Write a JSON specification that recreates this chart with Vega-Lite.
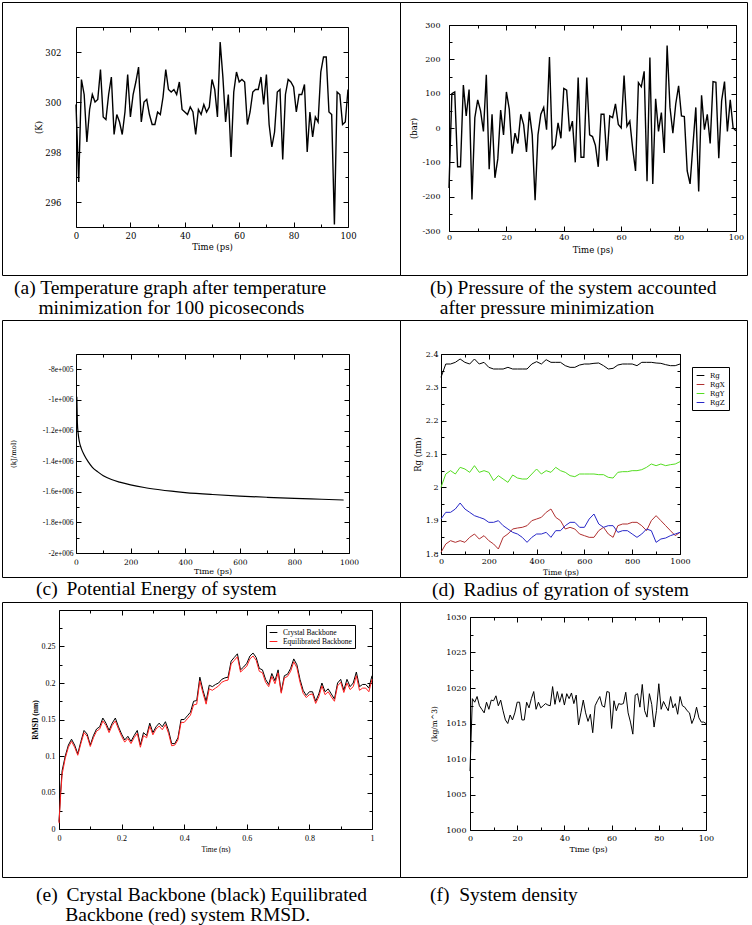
{
"$schema": "https://vega.github.io/schema/vega-lite/v6.json",
"background": "white",
"padding": {"left": 1, "top": 1, "right": 0, "bottom": 2},
"columns": 2,
"spacing": 0,
"bounds": "flush",
"align": "each",
"resolve": {"scale": {"color": "independent"}, "legend": {"color": "independent"}},
"config": {
  "view": {"stroke": "black", "strokeWidth": 1},
  "axis": {"grid": false, "domainColor": "#000", "tickColor": "#000", "labelColor": "#000", "titleColor": "#000", "labelFont": "DejaVu Serif", "titleFont": "DejaVu Serif", "labelFontSize": 8, "titleFontSize": 8.5, "titleFontWeight": "normal", "labelFlush": false, "labelOverlap": false, "labelBound": false, "titlePadding": 1, "domainWidth": 1, "tickWidth": 1, "zindex": 1},
  "title": {"font": "Liberation Serif", "fontSize": 19.5, "fontWeight": "normal", "color": "black", "anchor": "start", "frame": "group", "orient": "bottom", "baseline": "alphabetic", "lineHeight": 20},
  "legend": {"strokeColor": "black", "fillColor": "white", "padding": 4, "cornerRadius": 0, "symbolType": "stroke", "symbolSize": 60, "symbolStrokeWidth": 1, "rowPadding": 1, "labelOffset": 5, "labelColor": "black"}
},
"datasets": {
"temp": [{"t":0,"v":299.9},{"t":1,"v":296.8},{"t":2,"v":300.9},{"t":3,"v":300.3},{"t":4,"v":298.4},{"t":5,"v":299.7},{"t":6,"v":300.3},{"t":7,"v":300.0},{"t":8,"v":300.1},{"t":9,"v":301.3},{"t":10,"v":299.4},{"t":11,"v":299.3},{"t":12,"v":300.3},{"t":13,"v":301.0},{"t":14,"v":298.7},{"t":15,"v":299.5},{"t":16,"v":299.2},{"t":17,"v":298.7},{"t":18,"v":299.6},{"t":19,"v":301.1},{"t":20,"v":299.4},{"t":21,"v":300.3},{"t":22,"v":300.8},{"t":23,"v":301.4},{"t":24,"v":299.2},{"t":25,"v":300.0},{"t":26,"v":300.1},{"t":27,"v":299.5},{"t":28,"v":299.1},{"t":29,"v":299.1},{"t":30,"v":299.6},{"t":31,"v":299.5},{"t":32,"v":300.2},{"t":33,"v":301.3},{"t":34,"v":300.5},{"t":35,"v":300.4},{"t":36,"v":300.5},{"t":37,"v":300.3},{"t":38,"v":300.8},{"t":39,"v":299.7},{"t":40,"v":299.6},{"t":41,"v":299.5},{"t":42,"v":299.8},{"t":43,"v":299.6},{"t":44,"v":298.7},{"t":45,"v":299.7},{"t":46,"v":299.5},{"t":47,"v":299.9},{"t":48,"v":299.6},{"t":49,"v":299.8},{"t":50,"v":300.9},{"t":51,"v":300.5},{"t":52,"v":299.4},{"t":53,"v":302.4},{"t":54,"v":301.0},{"t":55,"v":299.2},{"t":56,"v":300.3},{"t":57,"v":297.8},{"t":58,"v":300.4},{"t":59,"v":301.2},{"t":60,"v":300.8},{"t":61,"v":300.9},{"t":62,"v":300.8},{"t":63,"v":299.1},{"t":64,"v":299.6},{"t":65,"v":300.4},{"t":66,"v":300.5},{"t":67,"v":300.5},{"t":68,"v":301.0},{"t":69,"v":299.9},{"t":70,"v":301.1},{"t":71,"v":299.1},{"t":72,"v":298.2},{"t":73,"v":298.8},{"t":74,"v":300.4},{"t":75,"v":300.5},{"t":76,"v":297.7},{"t":77,"v":300.3},{"t":78,"v":300.9},{"t":79,"v":300.8},{"t":80,"v":300.6},{"t":81,"v":299.6},{"t":82,"v":300.3},{"t":83,"v":300.3},{"t":84,"v":300.7},{"t":85,"v":298.0},{"t":86,"v":299.6},{"t":87,"v":298.6},{"t":88,"v":299.4},{"t":89,"v":299.2},{"t":90,"v":301.2},{"t":91,"v":301.8},{"t":92,"v":301.8},{"t":93,"v":299.6},{"t":94,"v":299.5},{"t":95,"v":295.1},{"t":96,"v":300.4},{"t":97,"v":300.3},{"t":98,"v":299.1},{"t":99,"v":299.2},{"t":100,"v":300.5}],
"pres": [{"t":0,"v":-175},{"t":1,"v":100},{"t":2,"v":105},{"t":3,"v":-113},{"t":4,"v":-113},{"t":5,"v":125},{"t":6,"v":35},{"t":7,"v":112},{"t":8,"v":-208},{"t":9,"v":30},{"t":10,"v":82},{"t":11,"v":50},{"t":12,"v":-10},{"t":13,"v":155},{"t":14,"v":-120},{"t":15,"v":40},{"t":16,"v":-145},{"t":17,"v":-90},{"t":18,"v":52},{"t":19,"v":-20},{"t":20,"v":105},{"t":21,"v":55},{"t":22,"v":-75},{"t":23,"v":-15},{"t":24,"v":-45},{"t":25,"v":40},{"t":26,"v":10},{"t":27,"v":-70},{"t":28,"v":47},{"t":29,"v":-20},{"t":30,"v":-210},{"t":31,"v":-20},{"t":32,"v":40},{"t":33,"v":60},{"t":34,"v":-5},{"t":35,"v":207},{"t":36,"v":-60},{"t":37,"v":-50},{"t":38,"v":15},{"t":39,"v":-30},{"t":40,"v":115},{"t":41,"v":110},{"t":42,"v":-10},{"t":43,"v":20},{"t":44,"v":-100},{"t":45,"v":147},{"t":46,"v":-85},{"t":47,"v":-85},{"t":48,"v":147},{"t":49,"v":-20},{"t":50,"v":-25},{"t":51,"v":-50},{"t":52,"v":-113},{"t":53,"v":40},{"t":54,"v":40},{"t":55,"v":-95},{"t":56,"v":35},{"t":57,"v":30},{"t":58,"v":70},{"t":59,"v":10},{"t":60,"v":0},{"t":61,"v":153},{"t":62,"v":5},{"t":63,"v":20},{"t":64,"v":-60},{"t":65,"v":-125},{"t":66,"v":132},{"t":67,"v":120},{"t":68,"v":165},{"t":69,"v":-155},{"t":70,"v":205},{"t":71,"v":-163},{"t":72,"v":85},{"t":73,"v":-10},{"t":74,"v":45},{"t":75,"v":-73},{"t":76,"v":240},{"t":77,"v":60},{"t":78,"v":-15},{"t":79,"v":70},{"t":80,"v":123},{"t":81,"v":35},{"t":82,"v":33},{"t":83,"v":-125},{"t":84,"v":-163},{"t":85,"v":-50},{"t":86,"v":60},{"t":87,"v":-185},{"t":88,"v":95},{"t":89,"v":-5},{"t":90,"v":40},{"t":91,"v":-45},{"t":92,"v":135},{"t":93,"v":133},{"t":94,"v":-88},{"t":95,"v":80},{"t":96,"v":135},{"t":97,"v":-10},{"t":98,"v":82},{"t":99,"v":0},{"t":100,"v":-8}],
"pe": [{"t":3,"v":-980000},{"t":5,"v":-1150000},{"t":8,"v":-1220000},{"t":12,"v":-1270000},{"t":20,"v":-1320000},{"t":30,"v":-1360000},{"t":45,"v":-1405000},{"t":60,"v":-1440000},{"t":80,"v":-1470000},{"t":100,"v":-1495000},{"t":130,"v":-1520000},{"t":160,"v":-1537000},{"t":200,"v":-1555000},{"t":250,"v":-1572000},{"t":300,"v":-1585000},{"t":350,"v":-1596000},{"t":400,"v":-1605000},{"t":500,"v":-1618000},{"t":600,"v":-1628000},{"t":700,"v":-1636000},{"t":800,"v":-1643000},{"t":900,"v":-1649000},{"t":980,"v":-1654000}],
"rg": [{"t":0,"Rg":2.33,"RgX":1.805,"RgY":2.0,"RgZ":1.905},{"t":20,"Rg":2.37,"RgX":1.83,"RgY":2.04,"RgZ":1.925},{"t":40,"Rg":2.37,"RgX":1.84,"RgY":2.05,"RgZ":1.925},{"t":60,"Rg":2.375,"RgX":1.835,"RgY":2.04,"RgZ":1.935},{"t":80,"Rg":2.385,"RgX":1.84,"RgY":2.06,"RgZ":1.953},{"t":100,"Rg":2.375,"RgX":1.835,"RgY":2.055,"RgZ":1.935},{"t":120,"Rg":2.37,"RgX":1.85,"RgY":2.045,"RgZ":1.925},{"t":140,"Rg":2.385,"RgX":1.86,"RgY":2.065,"RgZ":1.915},{"t":160,"Rg":2.37,"RgX":1.845,"RgY":2.045,"RgZ":1.91},{"t":180,"Rg":2.375,"RgX":1.855,"RgY":2.05,"RgZ":1.905},{"t":200,"Rg":2.36,"RgX":1.84,"RgY":2.045,"RgZ":1.895},{"t":220,"Rg":2.355,"RgX":1.83,"RgY":2.02,"RgZ":1.895},{"t":240,"Rg":2.355,"RgX":1.815,"RgY":2.035,"RgZ":1.9},{"t":260,"Rg":2.355,"RgX":1.85,"RgY":2.025,"RgZ":1.885},{"t":280,"Rg":2.36,"RgX":1.86,"RgY":2.015,"RgZ":1.875},{"t":300,"Rg":2.355,"RgX":1.875,"RgY":2.037,"RgZ":1.865},{"t":320,"Rg":2.355,"RgX":1.878,"RgY":2.028,"RgZ":1.86},{"t":340,"Rg":2.355,"RgX":1.88,"RgY":2.025,"RgZ":1.85},{"t":360,"Rg":2.355,"RgX":1.885,"RgY":2.025,"RgZ":1.835},{"t":380,"Rg":2.37,"RgX":1.9,"RgY":2.04,"RgZ":1.85},{"t":400,"Rg":2.377,"RgX":1.905,"RgY":2.055,"RgZ":1.86},{"t":420,"Rg":2.37,"RgX":1.91,"RgY":2.04,"RgZ":1.86},{"t":440,"Rg":2.383,"RgX":1.925,"RgY":2.05,"RgZ":1.865},{"t":460,"Rg":2.375,"RgX":1.935,"RgY":2.045,"RgZ":1.85},{"t":480,"Rg":2.375,"RgX":1.91,"RgY":2.06,"RgZ":1.87},{"t":500,"Rg":2.375,"RgX":1.9,"RgY":2.05,"RgZ":1.87},{"t":520,"Rg":2.365,"RgX":1.875,"RgY":2.045,"RgZ":1.885},{"t":540,"Rg":2.36,"RgX":1.88,"RgY":2.035,"RgZ":1.895},{"t":560,"Rg":2.36,"RgX":1.875,"RgY":2.032,"RgZ":1.895},{"t":580,"Rg":2.367,"RgX":1.86,"RgY":2.04,"RgZ":1.88},{"t":600,"Rg":2.37,"RgX":1.855,"RgY":2.04,"RgZ":1.88},{"t":620,"Rg":2.37,"RgX":1.85,"RgY":2.04,"RgZ":1.905},{"t":640,"Rg":2.372,"RgX":1.85,"RgY":2.04,"RgZ":1.92},{"t":660,"Rg":2.373,"RgX":1.87,"RgY":2.038,"RgZ":1.89},{"t":680,"Rg":2.365,"RgX":1.88,"RgY":2.038,"RgZ":1.88},{"t":700,"Rg":2.355,"RgX":1.86,"RgY":2.03,"RgZ":1.885},{"t":720,"Rg":2.357,"RgX":1.85,"RgY":2.028,"RgZ":1.885},{"t":740,"Rg":2.367,"RgX":1.885,"RgY":2.045,"RgZ":1.865},{"t":760,"Rg":2.37,"RgX":1.89,"RgY":2.047,"RgZ":1.87},{"t":780,"Rg":2.37,"RgX":1.89,"RgY":2.047,"RgZ":1.87},{"t":800,"Rg":2.37,"RgX":1.895,"RgY":2.05,"RgZ":1.86},{"t":820,"Rg":2.365,"RgX":1.895,"RgY":2.05,"RgZ":1.85},{"t":840,"Rg":2.375,"RgX":1.885,"RgY":2.053,"RgZ":1.86},{"t":860,"Rg":2.375,"RgX":1.87,"RgY":2.06,"RgZ":1.875},{"t":880,"Rg":2.375,"RgX":1.9,"RgY":2.07,"RgZ":1.87},{"t":900,"Rg":2.373,"RgX":1.915,"RgY":2.065,"RgZ":1.835},{"t":920,"Rg":2.372,"RgX":1.9,"RgY":2.07,"RgZ":1.845},{"t":940,"Rg":2.368,"RgX":1.885,"RgY":2.065,"RgZ":1.848},{"t":960,"Rg":2.365,"RgX":1.87,"RgY":2.068,"RgZ":1.855},{"t":980,"Rg":2.365,"RgX":1.855,"RgY":2.07,"RgZ":1.86},{"t":1000,"Rg":2.37,"RgX":1.865,"RgY":2.077,"RgZ":1.865}],
"rmsd": [{"t":0,"Crystal Backbone":0.01,"Equilibrated Backbone":0.008},{"t":0.005,"Crystal Backbone":0.05,"Equilibrated Backbone":0.045},{"t":0.01,"Crystal Backbone":0.08,"Equilibrated Backbone":0.075},{"t":0.02,"Crystal Backbone":0.1,"Equilibrated Backbone":0.097},{"t":0.03,"Crystal Backbone":0.115,"Equilibrated Backbone":0.112},{"t":0.04,"Crystal Backbone":0.123,"Equilibrated Backbone":0.12},{"t":0.05,"Crystal Backbone":0.115,"Equilibrated Backbone":0.112},{"t":0.06,"Crystal Backbone":0.103,"Equilibrated Backbone":0.101},{"t":0.07,"Crystal Backbone":0.12,"Equilibrated Backbone":0.117},{"t":0.08,"Crystal Backbone":0.135,"Equilibrated Backbone":0.132},{"t":0.09,"Crystal Backbone":0.13,"Equilibrated Backbone":0.127},{"t":0.1,"Crystal Backbone":0.115,"Equilibrated Backbone":0.113},{"t":0.11,"Crystal Backbone":0.128,"Equilibrated Backbone":0.125},{"t":0.12,"Crystal Backbone":0.137,"Equilibrated Backbone":0.134},{"t":0.13,"Crystal Backbone":0.14,"Equilibrated Backbone":0.137},{"t":0.14,"Crystal Backbone":0.152,"Equilibrated Backbone":0.148},{"t":0.15,"Crystal Backbone":0.145,"Equilibrated Backbone":0.142},{"t":0.16,"Crystal Backbone":0.135,"Equilibrated Backbone":0.132},{"t":0.17,"Crystal Backbone":0.145,"Equilibrated Backbone":0.142},{"t":0.18,"Crystal Backbone":0.152,"Equilibrated Backbone":0.148},{"t":0.19,"Crystal Backbone":0.14,"Equilibrated Backbone":0.137},{"t":0.2,"Crystal Backbone":0.13,"Equilibrated Backbone":0.127},{"t":0.21,"Crystal Backbone":0.122,"Equilibrated Backbone":0.119},{"t":0.22,"Crystal Backbone":0.127,"Equilibrated Backbone":0.124},{"t":0.23,"Crystal Backbone":0.12,"Equilibrated Backbone":0.117},{"t":0.24,"Crystal Backbone":0.128,"Equilibrated Backbone":0.125},{"t":0.25,"Crystal Backbone":0.135,"Equilibrated Backbone":0.131},{"t":0.26,"Crystal Backbone":0.115,"Equilibrated Backbone":0.112},{"t":0.27,"Crystal Backbone":0.132,"Equilibrated Backbone":0.128},{"t":0.28,"Crystal Backbone":0.128,"Equilibrated Backbone":0.125},{"t":0.29,"Crystal Backbone":0.145,"Equilibrated Backbone":0.141},{"t":0.3,"Crystal Backbone":0.132,"Equilibrated Backbone":0.129},{"t":0.31,"Crystal Backbone":0.14,"Equilibrated Backbone":0.137},{"t":0.32,"Crystal Backbone":0.145,"Equilibrated Backbone":0.141},{"t":0.33,"Crystal Backbone":0.14,"Equilibrated Backbone":0.136},{"t":0.34,"Crystal Backbone":0.147,"Equilibrated Backbone":0.143},{"t":0.35,"Crystal Backbone":0.135,"Equilibrated Backbone":0.131},{"t":0.36,"Crystal Backbone":0.117,"Equilibrated Backbone":0.114},{"t":0.37,"Crystal Backbone":0.117,"Equilibrated Backbone":0.115},{"t":0.38,"Crystal Backbone":0.125,"Equilibrated Backbone":0.122},{"t":0.39,"Crystal Backbone":0.15,"Equilibrated Backbone":0.146},{"t":0.4,"Crystal Backbone":0.15,"Equilibrated Backbone":0.146},{"t":0.41,"Crystal Backbone":0.155,"Equilibrated Backbone":0.151},{"t":0.42,"Crystal Backbone":0.16,"Equilibrated Backbone":0.156},{"t":0.43,"Crystal Backbone":0.175,"Equilibrated Backbone":0.17},{"t":0.44,"Crystal Backbone":0.176,"Equilibrated Backbone":0.171},{"t":0.45,"Crystal Backbone":0.208,"Equilibrated Backbone":0.203},{"t":0.46,"Crystal Backbone":0.19,"Equilibrated Backbone":0.186},{"t":0.47,"Crystal Backbone":0.175,"Equilibrated Backbone":0.171},{"t":0.48,"Crystal Backbone":0.197,"Equilibrated Backbone":0.192},{"t":0.49,"Crystal Backbone":0.195,"Equilibrated Backbone":0.19},{"t":0.5,"Crystal Backbone":0.198,"Equilibrated Backbone":0.193},{"t":0.51,"Crystal Backbone":0.2,"Equilibrated Backbone":0.196},{"t":0.52,"Crystal Backbone":0.205,"Equilibrated Backbone":0.201},{"t":0.53,"Crystal Backbone":0.207,"Equilibrated Backbone":0.203},{"t":0.54,"Crystal Backbone":0.208,"Equilibrated Backbone":0.204},{"t":0.55,"Crystal Backbone":0.23,"Equilibrated Backbone":0.226},{"t":0.56,"Crystal Backbone":0.235,"Equilibrated Backbone":0.231},{"t":0.57,"Crystal Backbone":0.24,"Equilibrated Backbone":0.236},{"t":0.58,"Crystal Backbone":0.218,"Equilibrated Backbone":0.215},{"t":0.59,"Crystal Backbone":0.222,"Equilibrated Backbone":0.219},{"t":0.6,"Crystal Backbone":0.227,"Equilibrated Backbone":0.223},{"t":0.61,"Crystal Backbone":0.237,"Equilibrated Backbone":0.233},{"t":0.62,"Crystal Backbone":0.241,"Equilibrated Backbone":0.237},{"t":0.63,"Crystal Backbone":0.235,"Equilibrated Backbone":0.231},{"t":0.64,"Crystal Backbone":0.22,"Equilibrated Backbone":0.216},{"t":0.65,"Crystal Backbone":0.218,"Equilibrated Backbone":0.214},{"t":0.66,"Crystal Backbone":0.205,"Equilibrated Backbone":0.201},{"t":0.67,"Crystal Backbone":0.198,"Equilibrated Backbone":0.195},{"t":0.68,"Crystal Backbone":0.213,"Equilibrated Backbone":0.209},{"t":0.69,"Crystal Backbone":0.203,"Equilibrated Backbone":0.199},{"t":0.7,"Crystal Backbone":0.218,"Equilibrated Backbone":0.214},{"t":0.71,"Crystal Backbone":0.188,"Equilibrated Backbone":0.186},{"t":0.72,"Crystal Backbone":0.21,"Equilibrated Backbone":0.207},{"t":0.73,"Crystal Backbone":0.212,"Equilibrated Backbone":0.209},{"t":0.74,"Crystal Backbone":0.22,"Equilibrated Backbone":0.216},{"t":0.75,"Crystal Backbone":0.233,"Equilibrated Backbone":0.229},{"t":0.76,"Crystal Backbone":0.225,"Equilibrated Backbone":0.221},{"t":0.77,"Crystal Backbone":0.205,"Equilibrated Backbone":0.201},{"t":0.78,"Crystal Backbone":0.19,"Equilibrated Backbone":0.186},{"t":0.79,"Crystal Backbone":0.183,"Equilibrated Backbone":0.18},{"t":0.8,"Crystal Backbone":0.188,"Equilibrated Backbone":0.184},{"t":0.81,"Crystal Backbone":0.188,"Equilibrated Backbone":0.185},{"t":0.82,"Crystal Backbone":0.175,"Equilibrated Backbone":0.172},{"t":0.83,"Crystal Backbone":0.185,"Equilibrated Backbone":0.181},{"t":0.84,"Crystal Backbone":0.2,"Equilibrated Backbone":0.196},{"t":0.85,"Crystal Backbone":0.188,"Equilibrated Backbone":0.184},{"t":0.86,"Crystal Backbone":0.192,"Equilibrated Backbone":0.188},{"t":0.87,"Crystal Backbone":0.185,"Equilibrated Backbone":0.181},{"t":0.88,"Crystal Backbone":0.178,"Equilibrated Backbone":0.175},{"t":0.89,"Crystal Backbone":0.2,"Equilibrated Backbone":0.196},{"t":0.9,"Crystal Backbone":0.205,"Equilibrated Backbone":0.201},{"t":0.91,"Crystal Backbone":0.19,"Equilibrated Backbone":0.187},{"t":0.92,"Crystal Backbone":0.205,"Equilibrated Backbone":0.2},{"t":0.93,"Crystal Backbone":0.195,"Equilibrated Backbone":0.191},{"t":0.94,"Crystal Backbone":0.2,"Equilibrated Backbone":0.195},{"t":0.95,"Crystal Backbone":0.215,"Equilibrated Backbone":0.21},{"t":0.96,"Crystal Backbone":0.195,"Equilibrated Backbone":0.19},{"t":0.97,"Crystal Backbone":0.198,"Equilibrated Backbone":0.193},{"t":0.98,"Crystal Backbone":0.198,"Equilibrated Backbone":0.193},{"t":0.99,"Crystal Backbone":0.193,"Equilibrated Backbone":0.188},{"t":1.0,"Crystal Backbone":0.21,"Equilibrated Backbone":0.205}],
"dens": [{"t":0,"v":1008.3},{"t":1,"v":1018.5},{"t":2,"v":1018},{"t":3,"v":1018.8},{"t":4,"v":1017.5},{"t":5,"v":1017},{"t":6,"v":1016.5},{"t":7,"v":1018},{"t":8,"v":1017},{"t":9,"v":1018.3},{"t":10,"v":1018.2},{"t":11,"v":1018.9},{"t":12,"v":1017.5},{"t":13,"v":1018.3},{"t":14,"v":1016.8},{"t":15,"v":1015.5},{"t":16,"v":1015},{"t":17,"v":1016.2},{"t":18,"v":1015.5},{"t":19,"v":1016.5},{"t":20,"v":1018},{"t":21,"v":1018},{"t":22,"v":1015.5},{"t":23,"v":1015.5},{"t":24,"v":1018},{"t":25,"v":1017.2},{"t":26,"v":1018.5},{"t":27,"v":1019.5},{"t":28,"v":1017},{"t":29,"v":1018},{"t":30,"v":1017.2},{"t":31,"v":1017.5},{"t":32,"v":1017.8},{"t":33,"v":1017.6},{"t":34,"v":1017.5},{"t":35,"v":1020.2},{"t":36,"v":1017.7},{"t":37,"v":1019.5},{"t":38,"v":1018},{"t":39,"v":1019.2},{"t":40,"v":1017.6},{"t":41,"v":1019.2},{"t":42,"v":1018.5},{"t":43,"v":1019.3},{"t":44,"v":1017.8},{"t":45,"v":1019},{"t":46,"v":1014.8},{"t":47,"v":1016.5},{"t":48,"v":1018.3},{"t":49,"v":1016.5},{"t":50,"v":1015.3},{"t":51,"v":1016.3},{"t":52,"v":1013.7},{"t":53,"v":1017.5},{"t":54,"v":1018.2},{"t":55,"v":1018.8},{"t":56,"v":1017.5},{"t":57,"v":1017.3},{"t":58,"v":1019.5},{"t":59,"v":1019.4},{"t":60,"v":1014.3},{"t":61,"v":1018.2},{"t":62,"v":1016.8},{"t":63,"v":1017.8},{"t":64,"v":1017.7},{"t":65,"v":1017.8},{"t":66,"v":1019.4},{"t":67,"v":1016.5},{"t":68,"v":1015.2},{"t":69,"v":1013.5},{"t":70,"v":1019},{"t":71,"v":1019.2},{"t":72,"v":1017.3},{"t":73,"v":1020.5},{"t":74,"v":1016.8},{"t":75,"v":1015.9},{"t":76,"v":1019.2},{"t":77,"v":1017.7},{"t":78,"v":1014.5},{"t":79,"v":1016.8},{"t":80,"v":1020.6},{"t":81,"v":1017},{"t":82,"v":1018.1},{"t":83,"v":1017.4},{"t":84,"v":1016.8},{"t":85,"v":1018.8},{"t":86,"v":1017.2},{"t":87,"v":1017.8},{"t":88,"v":1016.3},{"t":89,"v":1018.8},{"t":90,"v":1017.5},{"t":91,"v":1017.3},{"t":92,"v":1016.8},{"t":93,"v":1016.5},{"t":94,"v":1015},{"t":95,"v":1015.8},{"t":96,"v":1017.3},{"t":97,"v":1015.8},{"t":98,"v":1015.2},{"t":99,"v":1015.2},{"t":100,"v":1015}]
},
"concat": [
{
  "width": 398, "height": 273,
  "data": {"name": "temp"},
  "resolve": {"axis": {"x": "independent", "y": "independent"}},
  "layer": [
    {"mark": {"type": "line", "color": "black", "strokeWidth": 1.4},
     "encoding": {
      "x": {"field": "t", "type": "quantitative", "scale": {"domain": [0, 100], "range": [74, 346], "nice": false, "zero": false},
            "axis": {"orient": "bottom", "offset": -48, "values": [0,10,20,30,40,50,60,70,80,90,100], "tickSize": {"condition": {"test": "datum.value % 20 === 0", "value": -5}, "value": -3}, "labelExpr": "datum.value % 20 === 0 ? '' + datum.value : ''", "labelPadding": 9, "labelFontSize": 8.5, "title": "Time (ps)"}},
      "y": {"field": "v", "type": "quantitative", "scale": {"domain": [295, 303], "range": [225, 25], "nice": false, "zero": false},
            "axis": {"orient": "left", "offset": -74, "values": [296,297,298,299,300,301,302], "tickSize": {"condition": {"test": "datum.value % 2 === 0", "value": -5}, "value": -3}, "labelExpr": "datum.value % 2 === 0 ? '' + datum.value : ''", "labelPadding": 20, "labelFontSize": 8.5, "title": "(K)"}}
     }},
    {"mark": {"type": "line", "opacity": 0},
     "encoding": {
      "x": {"field": "t", "type": "quantitative", "axis": {"orient": "top", "offset": -25, "values": [0,10,20,30,40,50,60,70,80,90,100], "tickSize": {"condition": {"test": "datum.value % 20 === 0", "value": -5}, "value": -3}, "labels": false, "title": null}},
      "y": {"field": "v", "type": "quantitative", "axis": {"orient": "right", "offset": -52, "values": [296,297,298,299,300,301,302], "tickSize": {"condition": {"test": "datum.value % 2 === 0", "value": -5}, "value": -3}, "labels": false, "title": null}}
     }}
  ]
},
{
  "width": 347, "height": 273,
  "data": {"name": "pres"},
  "resolve": {"axis": {"x": "independent", "y": "independent"}},
  "layer": [
    {"mark": {"type": "line", "color": "black", "strokeWidth": 1.4},
     "encoding": {
      "x": {"field": "t", "type": "quantitative", "scale": {"domain": [0, 100], "range": [49, 336], "nice": false, "zero": false},
            "axis": {"orient": "bottom", "offset": -44, "values": [0,10,20,30,40,50,60,70,80,90,100], "tickSize": {"condition": {"test": "datum.value % 20 === 0", "value": -5}, "value": -3}, "labelExpr": "datum.value % 20 === 0 ? '' + datum.value : ''", "labelPadding": 7, "title": "Time (ps)", "titlePadding": 2}},
      "y": {"field": "v", "type": "quantitative", "scale": {"domain": [-300, 300], "range": [229, 23], "nice": false, "zero": false},
            "axis": {"orient": "left", "offset": -49, "values": [-300,-250,-200,-150,-100,-50,0,50,100,150,200,250,300], "tickSize": {"condition": {"test": "datum.value % 100 === 0", "value": -5}, "value": -3}, "labelExpr": "datum.value % 100 === 0 ? '' + datum.value : ''", "labelPadding": 14, "title": "(bar)", "titlePadding": 4}}
     }},
    {"mark": {"type": "line", "opacity": 0},
     "encoding": {
      "x": {"field": "t", "type": "quantitative", "axis": {"orient": "top", "offset": -23, "values": [0,10,20,30,40,50,60,70,80,90,100], "tickSize": {"condition": {"test": "datum.value % 20 === 0", "value": -5}, "value": -3}, "labels": false, "title": null}},
      "y": {"field": "v", "type": "quantitative", "axis": {"orient": "right", "offset": -11, "values": [-300,-250,-200,-150,-100,-50,0,50,100,150,200,250,300], "tickSize": {"condition": {"test": "datum.value % 100 === 0", "value": -5}, "value": -3}, "labels": false, "title": null}}
     }}
  ]
},
{
  "width": 398, "height": 45,
  "data": {"values": []},
  "mark": {"type": "point", "opacity": 0},
  "title": {"text": ["(a) Temperature graph after temperature", "\u200b\u00a0\u00a0\u00a0\u00a0\u00a0minimization for 100 picoseconds"], "offset": -41, "dx": 12}
},
{
  "width": 347, "height": 45,
  "data": {"values": []},
  "mark": {"type": "point", "opacity": 0},
  "title": {"text": ["(b) Pressure of the system accounted", "\u200b\u00a0\u00a0after pressure minimization"], "offset": -41, "dx": 30}
},
{
  "width": 398, "height": 257,
  "data": {"name": "pe"},
  "resolve": {"axis": {"x": "independent", "y": "independent"}},
  "layer": [
    {"mark": {"type": "line", "color": "black", "strokeWidth": 1.2, "interpolate": "monotone"},
     "encoding": {
      "x": {"field": "t", "type": "quantitative", "scale": {"domain": [0, 1000], "range": [74, 347], "nice": false, "zero": false},
            "axis": {"orient": "bottom", "offset": -24, "values": [0,100,200,300,400,500,600,700,800,900,1000], "tickSize": {"condition": {"test": "datum.value % 200 === 0", "value": -5}, "value": -3}, "labelExpr": "datum.value % 200 === 0 ? '' + datum.value : ''", "labelPadding": 10, "labelFontSize": 7.5, "title": "Time (ps)", "titleFontSize": 8, "titlePadding": 0}},
      "y": {"field": "v", "type": "quantitative", "scale": {"domain": [-2000000, -700000], "range": [233, 34], "nice": false, "zero": false},
            "axis": {"orient": "left", "offset": -74, "values": [-2000000,-1900000,-1800000,-1700000,-1600000,-1500000,-1400000,-1300000,-1200000,-1100000,-1000000,-900000,-800000], "tickSize": {"condition": {"test": "round(datum.value/100000) % 2 === 0", "value": -5}, "value": -3}, "labelExpr": "round(datum.value/100000) % 2 === 0 ? (datum.value <= -1000000 ? '-' + (-datum.value/1000000) + 'e+006' : '-' + (-datum.value/100000) + 'e+005') : ''", "labelPadding": 8, "labelFont": "Liberation Serif", "labelFontSize": 7.5, "title": "(kJ/mol)", "titleFontSize": 7, "titlePadding": 26}}
     }},
    {"mark": {"type": "line", "opacity": 0},
     "encoding": {
      "x": {"field": "t", "type": "quantitative", "axis": {"orient": "top", "offset": -34, "values": [0,100,200,300,400,500,600,700,800,900,1000], "tickSize": {"condition": {"test": "datum.value % 200 === 0", "value": -5}, "value": -3}, "labels": false, "title": null}},
      "y": {"field": "v", "type": "quantitative", "axis": {"orient": "right", "offset": -51, "values": [-2000000,-1900000,-1800000,-1700000,-1600000,-1500000,-1400000,-1300000,-1200000,-1100000,-1000000,-900000,-800000], "tickSize": {"condition": {"test": "round(datum.value/100000) % 2 === 0", "value": -5}, "value": -3}, "labels": false, "title": null}}
     }}
  ]
},
{
  "width": 347, "height": 257,
  "data": {"name": "rg"},
  "transform": [{"fold": ["Rg", "RgX", "RgY", "RgZ"], "as": ["series", "v"]}],
  "resolve": {"axis": {"x": "independent", "y": "independent"}},
  "layer": [
    {"mark": {"type": "line", "strokeWidth": 1},
     "encoding": {
      "x": {"field": "t", "type": "quantitative", "scale": {"domain": [0, 1000], "range": [41, 280], "nice": false, "zero": false},
            "axis": {"orient": "bottom", "offset": -23, "values": [0,100,200,300,400,500,600,700,800,900,1000], "tickSize": {"condition": {"test": "datum.value % 200 === 0", "value": -5}, "value": -3}, "labelExpr": "datum.value % 200 === 0 ? '' + datum.value : ''", "labelPadding": 8, "title": "Time (ps)", "titleFontSize": 7.5}},
      "y": {"field": "v", "type": "quantitative", "scale": {"domain": [1.8, 2.4], "range": [234, 34], "nice": false, "zero": false},
            "axis": {"orient": "left", "offset": -41, "values": [1.8,1.85,1.9,1.95,2.0,2.05,2.1,2.15,2.2,2.25,2.3,2.35,2.4], "tickSize": {"condition": {"test": "round(datum.value*100) % 10 === 0", "value": -5}, "value": -3}, "labelExpr": "round(datum.value*100) % 10 === 0 ? '' + datum.value : ''", "labelPadding": 8, "title": "Rg (nm)", "titlePadding": 3}},
      "color": {"field": "series", "type": "nominal", "scale": {"domain": ["Rg", "RgX", "RgY", "RgZ"], "range": ["#000000", "#b03030", "#55dd22", "#2828c8"]},
                "legend": {"orient": "none", "legendX": 292, "legendY": 47, "title": null, "labelFont": "DejaVu Serif", "labelFontSize": 7}}
     }},
    {"mark": {"type": "line", "opacity": 0},
     "encoding": {
      "x": {"field": "t", "type": "quantitative", "axis": {"orient": "top", "offset": -34, "values": [0,100,200,300,400,500,600,700,800,900,1000], "tickSize": {"condition": {"test": "datum.value % 200 === 0", "value": -5}, "value": -3}, "labels": false, "title": null}},
      "y": {"field": "v", "type": "quantitative", "axis": {"orient": "right", "offset": -67, "values": [1.8,1.85,1.9,1.95,2.0,2.05,2.1,2.15,2.2,2.25,2.3,2.35,2.4], "tickSize": {"condition": {"test": "round(datum.value*100) % 10 === 0", "value": -5}, "value": -3}, "labels": false, "title": null}}
     }}
  ]
},
{
  "width": 398, "height": 25,
  "data": {"values": []},
  "mark": {"type": "point", "opacity": 0},
  "title": {"text": "(c) \u2009Potential Energy of system", "offset": -22, "dx": 34}
},
{
  "width": 347, "height": 25,
  "data": {"values": []},
  "mark": {"type": "point", "opacity": 0},
  "title": {"text": "(d) \u2009Radius of gyration of system", "offset": -21, "dx": 32}
},
{
  "width": 398, "height": 275,
  "data": {"name": "rmsd"},
  "transform": [{"fold": ["Crystal Backbone", "Equilibrated Backbone"], "as": ["series", "v"]}],
  "resolve": {"axis": {"x": "independent", "y": "independent"}},
  "layer": [
    {"mark": {"type": "line", "strokeWidth": 1},
     "encoding": {
      "x": {"field": "t", "type": "quantitative", "scale": {"domain": [0, 1], "range": [57, 370], "nice": false, "zero": false},
            "axis": {"orient": "bottom", "offset": -48, "values": [0,0.1,0.2,0.3,0.4,0.5,0.6,0.7,0.8,0.9,1], "tickSize": {"condition": {"test": "round(datum.value*10) % 2 === 0", "value": -5}, "value": -3}, "labelExpr": "round(datum.value*10) % 2 === 0 ? '' + datum.value : ''", "labelPadding": 10, "labelFont": "Liberation Serif", "labelFontSize": 8, "title": "Time (ns)", "titleFont": "Liberation Serif", "titleFontSize": 7.5}},
      "y": {"field": "v", "type": "quantitative", "scale": {"domain": [0, 0.3], "range": [227, 8], "nice": false, "zero": false},
            "axis": {"orient": "left", "offset": -57, "values": [0,0.025,0.05,0.075,0.1,0.125,0.15,0.175,0.2,0.225,0.25,0.275], "tickSize": {"condition": {"test": "round(datum.value*1000) % 50 === 0", "value": -5}, "value": -3}, "labelExpr": "round(datum.value*1000) % 50 === 0 ? '' + datum.value : ''", "labelPadding": 9, "labelFont": "Liberation Serif", "labelFontSize": 8, "title": "RMSD (nm)", "titleFont": "Liberation Serif", "titleFontWeight": "bold", "titleFontSize": 7.5, "titlePadding": 2}},
      "color": {"field": "series", "type": "nominal", "scale": {"domain": ["Crystal Backbone", "Equilibrated Backbone"], "range": ["#000000", "#ff2020"]},
                "legend": {"orient": "none", "legendX": 264, "legendY": 23, "title": null, "labelFont": "Liberation Serif", "labelFontSize": 7.5, "padding": 3}}
     }},
    {"mark": {"type": "line", "opacity": 0},
     "encoding": {
      "x": {"field": "t", "type": "quantitative", "axis": {"orient": "top", "offset": -8, "values": [0,0.1,0.2,0.3,0.4,0.5,0.6,0.7,0.8,0.9,1], "tickSize": {"condition": {"test": "round(datum.value*10) % 2 === 0", "value": -5}, "value": -3}, "labels": false, "title": null}},
      "y": {"field": "v", "type": "quantitative", "axis": {"orient": "right", "offset": -28, "values": [0,0.025,0.05,0.075,0.1,0.125,0.15,0.175,0.2,0.225,0.25,0.275], "tickSize": {"condition": {"test": "round(datum.value*1000) % 50 === 0", "value": -5}, "value": -3}, "labels": false, "title": null}}
     }}
  ]
},
{
  "width": 347, "height": 275,
  "data": {"name": "dens"},
  "resolve": {"axis": {"x": "independent", "y": "independent"}},
  "layer": [
    {"mark": {"type": "line", "color": "black", "strokeWidth": 1},
     "encoding": {
      "x": {"field": "t", "type": "quantitative", "scale": {"domain": [0, 100], "range": [70, 306], "nice": false, "zero": false},
            "axis": {"orient": "bottom", "offset": -47, "values": [0,10,20,30,40,50,60,70,80,90,100], "tickSize": {"condition": {"test": "datum.value % 20 === 0", "value": -5}, "value": -3}, "labelExpr": "datum.value % 20 === 0 ? '' + datum.value : ''", "labelPadding": 9, "labelFontSize": 8, "title": "Time (ps)", "titleFontSize": 8}},
      "y": {"field": "v", "type": "quantitative", "scale": {"domain": [1000, 1030], "range": [228, 15], "nice": false, "zero": false},
            "axis": {"orient": "left", "offset": -70, "values": [1000,1002.5,1005,1007.5,1010,1012.5,1015,1017.5,1020,1022.5,1025,1027.5,1030], "tickSize": {"condition": {"test": "datum.value % 5 === 0", "value": -5}, "value": -3}, "labelExpr": "datum.value % 5 === 0 ? '' + datum.value : ''", "labelPadding": 9, "labelFontSize": 8, "title": "(kg/m^3)", "titleFontSize": 7.5, "titlePadding": 7}}
     }},
    {"mark": {"type": "line", "opacity": 0},
     "encoding": {
      "x": {"field": "t", "type": "quantitative", "axis": {"orient": "top", "offset": -15, "values": [0,10,20,30,40,50,60,70,80,90,100], "tickSize": {"condition": {"test": "datum.value % 20 === 0", "value": -5}, "value": -3}, "labels": false, "title": null}},
      "y": {"field": "v", "type": "quantitative", "axis": {"orient": "right", "offset": -41, "values": [1000,1002.5,1005,1007.5,1010,1012.5,1015,1017.5,1020,1022.5,1025,1027.5,1030], "tickSize": {"condition": {"test": "datum.value % 5 === 0", "value": -5}, "value": -3}, "labels": false, "title": null}}
     }}
  ]
},
{
  "width": 398, "height": 47,
  "data": {"values": []},
  "mark": {"type": "point", "opacity": 0},
  "title": {"text": ["(e) \u2009Crystal Backbone (black) Equilibrated", "\u200b\u00a0\u00a0\u00a0\u00a0\u00a0\u00a0Backbone (red) system RMSD."], "offset": -38, "dx": 34}
},
{
  "width": 347, "height": 47,
  "data": {"values": []},
  "mark": {"type": "point", "opacity": 0},
  "title": {"text": "(f) \u00a0System density", "offset": -38, "dx": 30}
}
]
}
